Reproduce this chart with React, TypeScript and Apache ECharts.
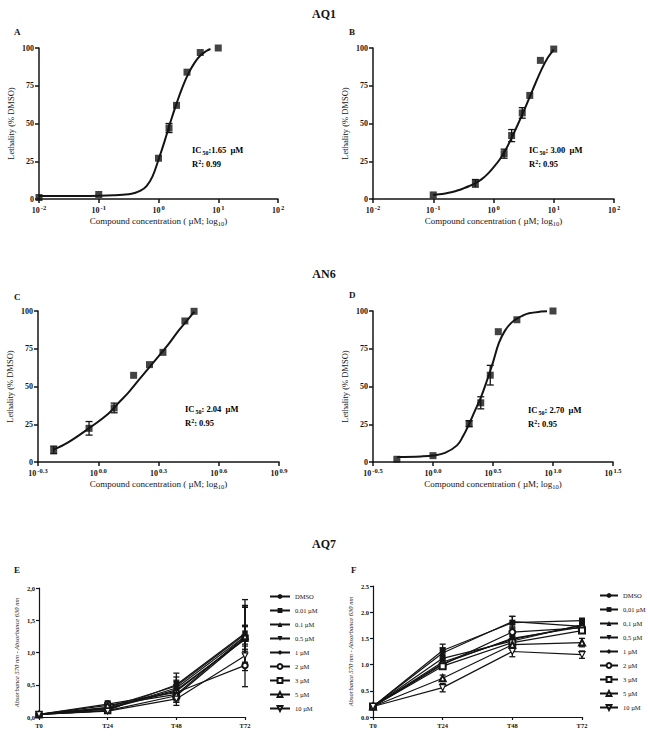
import React, { useEffect, useRef } from 'react';
import * as echarts from 'echarts';

const SERIF = '"Liberation Serif", "Times New Roman", serif';
const INK = '#141414';

// ---------- Panel A (AQ1) ----------
const concA = [0.01, 0.1, 1, 1.5, 2, 3, 5, 10];
const lethA = [1, 3, 27, 47, 62, 84, 97, 100];
const errA = [0, 0, 0, 3, 0, 0, 0, 0];
const fitALog = [-2, -1.5, -1, -0.75, -0.5, -0.4, -0.3, -0.2, -0.1, 0, 0.1, 0.2, 0.3, 0.4, 0.5, 0.6, 0.7, 0.8, 0.87];
const fitAVal = [2, 2, 2.2, 2.5, 3.2, 4, 5.5, 8.5, 15, 26, 38, 51, 63, 74, 83, 90, 95, 98, 99.3];

// ---------- Panel B (AQ1) ----------
const concB = [0.1, 0.5, 1.5, 2, 3, 4, 6, 10];
const lethB = [2.7, 10.4, 30, 42, 57, 68.6, 91.8, 99.3];
const errB = [0, 2.5, 3, 4, 3.5, 0, 0, 0];
const fitBLog = [-1, -0.9, -0.8, -0.7, -0.6, -0.5, -0.4, -0.3, -0.2, -0.1, 0, 0.1, 0.2, 0.3, 0.4, 0.5, 0.6, 0.7, 0.8, 0.9, 1.0];
const fitBVal = [2.7, 3.1, 3.7, 4.5, 5.6, 7, 8.6, 10.5, 13, 16.5, 21, 26, 32.5, 40.5, 49, 58, 67.5, 77, 86, 93.5, 99];

// ---------- Panel C (AN6) ----------
const concC = [0.6, 0.9, 1.2, 1.5, 1.8, 2.1, 2.7, 3.0];
const lethC = [8, 22.3, 35.8, 57.4, 64.5, 72.6, 93.4, 99.8];
const errC = [2.5, 4.5, 3.2, 0, 0, 0, 0, 0];
const fitCLog = [-0.225, -0.15, -0.05, 0.05, 0.1, 0.15, 0.2, 0.25, 0.3, 0.35, 0.4, 0.45, 0.478];
const fitCVal = [8, 13, 22, 32, 39, 46, 54, 62, 70, 78, 87, 95, 99.5];

// ---------- Panel D (AN6) ----------
const concD = [0.5, 1, 2, 2.5, 3, 3.5, 5, 10];
const lethD = [1.8, 4.2, 25.4, 39.2, 57.5, 86.3, 94.2, 100];
const errD = [0, 0, 2, 4, 6.5, 0, 0, 0];
const fitDLog = [-0.3, -0.1, 0, 0.1, 0.2, 0.25, 0.3, 0.35, 0.4, 0.45, 0.5, 0.55, 0.6, 0.65, 0.7, 0.75, 0.8, 0.9, 0.95];
const fitDVal = [3.3, 3.7, 4.3, 6, 11, 17, 25, 34, 43, 54, 66, 79, 87, 92, 95, 97, 98.5, 99.6, 99.8];

const icValues = [':1.65  µM', ': 3.00  µM', ': 2.04  µM', ': 2.70  µM'];
const r2Values = ['0.99', '0.95', '0.95', '0.95'];

// ---------- Panels E / F (AQ7) ----------
const timePoints = ['T0', 'T24', 'T48', 'T72'];
const namesE = ['DMSO', '0.01 µM', '0.1 µM', '0.5 µM', '1 µM', '2 µM', '3 µM', '5 µM', '10 µM'];
const namesF = ['DMSO', '0,01 µM', '0,1 µM', '0,5 µM', '1 µM', '2 µM', '3 µM', '5 µM', '10 µM'];

const absE = [
  [0.04, 0.12, 0.45, 1.25],
  [0.04, 0.10, 0.50, 1.30],
  [0.04, 0.15, 0.48, 1.28],
  [0.04, 0.13, 0.40, 1.22],
  [0.04, 0.14, 0.42, 1.20],
  [0.04, 0.20, 0.38, 0.80],
  [0.04, 0.10, 0.33, 1.22],
  [0.04, 0.18, 0.35, 1.25],
  [0.04, 0.09, 0.28, 0.95],
];
const sdE = [
  [0.01, 0.03, 0.10, 0.45],
  [0.01, 0.02, 0.12, 0.52],
  [0.01, 0.07, 0.20, 0.45],
  [0.01, 0.03, 0.10, 0.50],
  [0.01, 0.03, 0.15, 0.22],
  [0.01, 0.05, 0.12, 0.33],
  [0.01, 0.02, 0.10, 0.20],
  [0.01, 0.05, 0.12, 0.15],
  [0.01, 0.03, 0.10, 0.10],
];
const absF = [
  [0.2, 1.05, 1.48, 1.75],
  [0.2, 1.27, 1.80, 1.84],
  [0.2, 1.22, 1.82, 1.73],
  [0.2, 1.12, 1.45, 1.76],
  [0.2, 1.02, 1.50, 1.72],
  [0.2, 1.00, 1.62, 1.70],
  [0.2, 0.97, 1.42, 1.65],
  [0.2, 0.74, 1.38, 1.42],
  [0.2, 0.56, 1.25, 1.19],
];
const sdF = [
  [0.02, 0.08, 0.08, 0.04],
  [0.02, 0.12, 0.12, 0.04],
  [0.02, 0.10, 0.10, 0.04],
  [0.02, 0.08, 0.08, 0.04],
  [0.02, 0.08, 0.10, 0.04],
  [0.02, 0.08, 0.08, 0.04],
  [0.02, 0.06, 0.08, 0.05],
  [0.02, 0.06, 0.10, 0.08],
  [0.02, 0.08, 0.10, 0.07],
];

const INV_TRI = 'path://M0,0L10,0L5,9Z';
const symbols = ['circle', 'rect', 'triangle', INV_TRI, 'diamond', 'emptyCircle', 'emptyRect', 'emptyTriangle', INV_TRI];
const emptyInv = [false, false, false, false, false, false, false, false, true];

function errRender(cap: number) {
  return (params: any, api: any) => {
    const x = api.value(0);
    const a = api.coord([x, api.value(1)]);
    const b = api.coord([x, api.value(2)]);
    const style = { stroke: INK, lineWidth: 1.3 };
    return {
      type: 'group',
      children: [
        { type: 'line', shape: { x1: a[0], y1: a[1], x2: b[0], y2: b[1] }, style },
        { type: 'line', shape: { x1: a[0] - cap, y1: a[1], x2: a[0] + cap, y2: a[1] }, style },
        { type: 'line', shape: { x1: b[0] - cap, y1: b[1], x2: b[0] + cap, y2: b[1] }, style },
      ],
    };
  };
}

const axisLineStyle = { lineStyle: { color: INK, width: 1.5 } };
const axisTickStyle = { show: true, length: 4, lineStyle: { color: INK, width: 1.5 } };

function logXAxis(gridIndex: number, min: number, max: number, interval: number, digits: number) {
  return {
    type: 'value', gridIndex, min, max, interval,
    axisLine: { show: true, onZero: false, ...axisLineStyle },
    axisTick: axisTickStyle,
    splitLine: { show: false },
    axisLabel: {
      margin: 5,
      formatter: (v: number) => {
        let s = v.toFixed(digits);
        if (/^-0(\.0+)?$/.test(s)) s = s.slice(1);
        return `{b|10}{s|${s}}`;
      },
      rich: {
        b: { fontFamily: SERIF, fontSize: 8, fontWeight: 'bold', color: INK },
        s: { fontFamily: SERIF, fontSize: 6.5, fontWeight: 'bold', color: INK, padding: [0, 0, 5, 1] },
      },
    },
    name: 'Compound concentration ( µM; log{sub|10})',
    nameLocation: 'middle',
    nameGap: 15,
    nameTextStyle: {
      fontFamily: SERIF, fontSize: 9, color: INK,
      rich: { sub: { fontFamily: SERIF, fontSize: 6.5, color: INK, padding: [6, 0, 0, 0] } },
    },
  };
}

function lethYAxis(gridIndex: number) {
  return {
    type: 'value', gridIndex, min: 0, max: 100, interval: 25,
    axisLine: { show: true, onZero: false, ...axisLineStyle },
    axisTick: axisTickStyle,
    splitLine: { show: false },
    axisLabel: { margin: 5, fontFamily: SERIF, fontSize: 8, fontWeight: 'bold', color: INK },
    name: 'Lethality (% DMSO)',
    nameLocation: 'middle',
    nameGap: 24,
    nameTextStyle: { fontFamily: SERIF, fontSize: 8.5, color: INK },
  };
}

function doseSeries(idx: number, conc: number[], leth: number[], err: number[], fitLog: number[], fitVal: number[]) {
  const logs = conc.map((c) => Math.log10(c));
  return [
    {
      type: 'line', xAxisIndex: idx, yAxisIndex: idx, smooth: 0.4, showSymbol: false, silent: true,
      lineStyle: { color: INK, width: 2 },
      data: fitLog.map((l, i) => [l, fitVal[i]]),
      z: 2,
    },
    {
      type: 'custom', xAxisIndex: idx, yAxisIndex: idx, renderItem: errRender(3.5),
      encode: { x: 0, y: [1, 2] },
      data: logs.map((l, i) => [l, leth[i] - err[i], leth[i] + err[i]]).filter((_, i) => err[i] > 0),
      z: 3,
    },
    {
      type: 'scatter', xAxisIndex: idx, yAxisIndex: idx, symbol: 'rect', symbolSize: 7,
      itemStyle: { color: INK },
      data: logs.map((l, i) => [l, leth[i]]),
      z: 4,
    },
  ];
}

function timeXAxis(gridIndex: number) {
  return {
    type: 'category', gridIndex, data: timePoints, boundaryGap: false,
    axisLine: { show: true, onZero: false, lineStyle: { color: INK, width: 1.2 } },
    axisTick: { show: true, alignWithLabel: true, length: 3, lineStyle: { color: INK, width: 1.2 } },
    axisLabel: { margin: 5, fontFamily: SERIF, fontSize: 6.5, fontWeight: 'bold', color: INK },
  };
}

function absYAxis(gridIndex: number, max: number, comma: boolean) {
  return {
    type: 'value', gridIndex, min: 0, max, interval: 0.5,
    axisLine: { show: true, onZero: false, lineStyle: { color: INK, width: 1.2 } },
    axisTick: { show: true, length: 3, lineStyle: { color: INK, width: 1.2 } },
    splitLine: { show: false },
    axisLabel: {
      margin: 4, fontFamily: SERIF, fontSize: 6.5, fontWeight: 'bold', color: INK,
      formatter: (v: number) => (comma ? v.toFixed(1).replace('.', ',') : v.toFixed(1)),
    },
    name: 'Absorbance 570 nm - Absorbance 630 nm',
    nameLocation: 'middle',
    nameGap: 19,
    nameTextStyle: { fontFamily: SERIF, fontSize: 6.5, fontStyle: 'italic', color: INK },
  };
}

function timeSeries(idx: number, names: string[], vals: number[][], sds: number[][], size: number) {
  const out: any[] = [];
  names.forEach((name, s) => {
    const empty = emptyInv[s];
    out.push({
      type: 'line', name, xAxisIndex: idx, yAxisIndex: idx,
      symbol: symbols[s], symbolSize: size, showSymbol: true,
      lineStyle: { color: INK, width: 1.2 },
      itemStyle: empty ? { color: '#fff', borderColor: INK, borderWidth: 1.2 } : { color: INK, borderWidth: 1.2 },
      data: vals[s],
      z: 4,
    });
    out.push({
      type: 'custom', xAxisIndex: idx, yAxisIndex: idx, renderItem: errRender(3),
      encode: { x: 0, y: [1, 2] },
      data: vals[s].map((v, i) => [i, v - sds[s][i], v + sds[s][i]]),
      z: 3,
    });
  });
  return out;
}

const richIC = {
  b: { fontFamily: SERIF, fontSize: 8.5, fontWeight: 'bold', color: INK },
  sub: { fontFamily: SERIF, fontSize: 6, fontWeight: 'bold', color: INK, padding: [5, 0, 0, 1] },
  sup: { fontFamily: SERIF, fontSize: 6, fontWeight: 'bold', color: INK, padding: [0, 0, 5, 0] },
};

function icTexts(x: number, y: number, k: number) {
  return [
    { type: 'text', x, y, style: { text: `{b|IC}{sub|50}{b|${icValues[k]}}`, rich: richIC, verticalAlign: 'middle' } },
    { type: 'text', x, y: y + 14, style: { text: `{b|R}{sup|2}{b|: ${r2Values[k]}}`, rich: richIC, verticalAlign: 'middle' } },
  ];
}

function letter(t: string, x: number, y: number) {
  return { type: 'text', x, y, style: { text: t, fontFamily: SERIF, fontSize: 9, fontWeight: 'bold', fill: INK, verticalAlign: 'middle' } };
}

export default function App() {
  const ref = useRef<HTMLDivElement>(null);
  useEffect(() => {
    if (!ref.current) return;
    const chart = echarts.init(ref.current, undefined, { renderer: 'svg' });
    const titleStyle = { fontFamily: SERIF, fontSize: 12, fontWeight: 'bold', color: INK };
    chart.setOption({
      animation: false,
      backgroundColor: '#fff',
      title: [
        { text: 'AQ1', left: 'center', top: 3, textStyle: titleStyle },
        { text: 'AN6', left: 'center', top: 263, textStyle: titleStyle },
        { text: 'AQ7', left: 'center', top: 533, textStyle: titleStyle },
      ],
      grid: [
        { left: 39, top: 48, width: 239, height: 151 },
        { left: 373, top: 48, width: 241, height: 151 },
        { left: 38, top: 311, width: 241, height: 151 },
        { left: 373, top: 311, width: 240, height: 151 },
        { left: 39, top: 588, width: 206, height: 129 },
        { left: 373, top: 586, width: 209, height: 131 },
      ],
      xAxis: [
        logXAxis(0, -2, 2, 1, 0),
        logXAxis(1, -2, 2, 1, 0),
        logXAxis(2, -0.3, 0.9, 0.3, 1),
        logXAxis(3, -0.5, 1.5, 0.5, 1),
        timeXAxis(4),
        timeXAxis(5),
      ],
      yAxis: [
        lethYAxis(0), lethYAxis(1), lethYAxis(2), lethYAxis(3),
        absYAxis(4, 2, true),
        absYAxis(5, 2.5, false),
      ],
      legend: [
        {
          orient: 'vertical', left: 264, top: 588, itemGap: 7, itemWidth: 20, itemHeight: 6,
          data: namesE, selectedMode: false,
          textStyle: { fontFamily: SERIF, fontSize: 6.5, color: INK },
        },
        {
          orient: 'vertical', left: 594, top: 587, itemGap: 7, itemWidth: 18, itemHeight: 6,
          data: namesF, selectedMode: false,
          textStyle: { fontFamily: SERIF, fontSize: 6.5, color: INK },
        },
      ],
      graphic: [
        letter('A', 14, 32), letter('B', 349, 32), letter('C', 14, 297),
        letter('D', 349, 295), letter('E', 14, 570), letter('F', 351, 570),
        ...icTexts(192, 150, 0),
        ...icTexts(529, 150, 1),
        ...icTexts(185, 409, 2),
        ...icTexts(528, 410, 3),
      ],
      series: [
        ...doseSeries(0, concA, lethA, errA, fitALog, fitAVal),
        ...doseSeries(1, concB, lethB, errB, fitBLog, fitBVal),
        ...doseSeries(2, concC, lethC, errC, fitCLog, fitCVal),
        ...doseSeries(3, concD, lethD, errD, fitDLog, fitDVal),
        ...timeSeries(4, namesE, absE, sdE, 5.5),
        ...timeSeries(5, namesF, absF, sdF, 6),
      ],
    });
    return () => chart.dispose();
  }, []);
  return <div ref={ref} style={{ position: 'absolute', left: 0, top: 0, width: 648, height: 736 }} />;
}
